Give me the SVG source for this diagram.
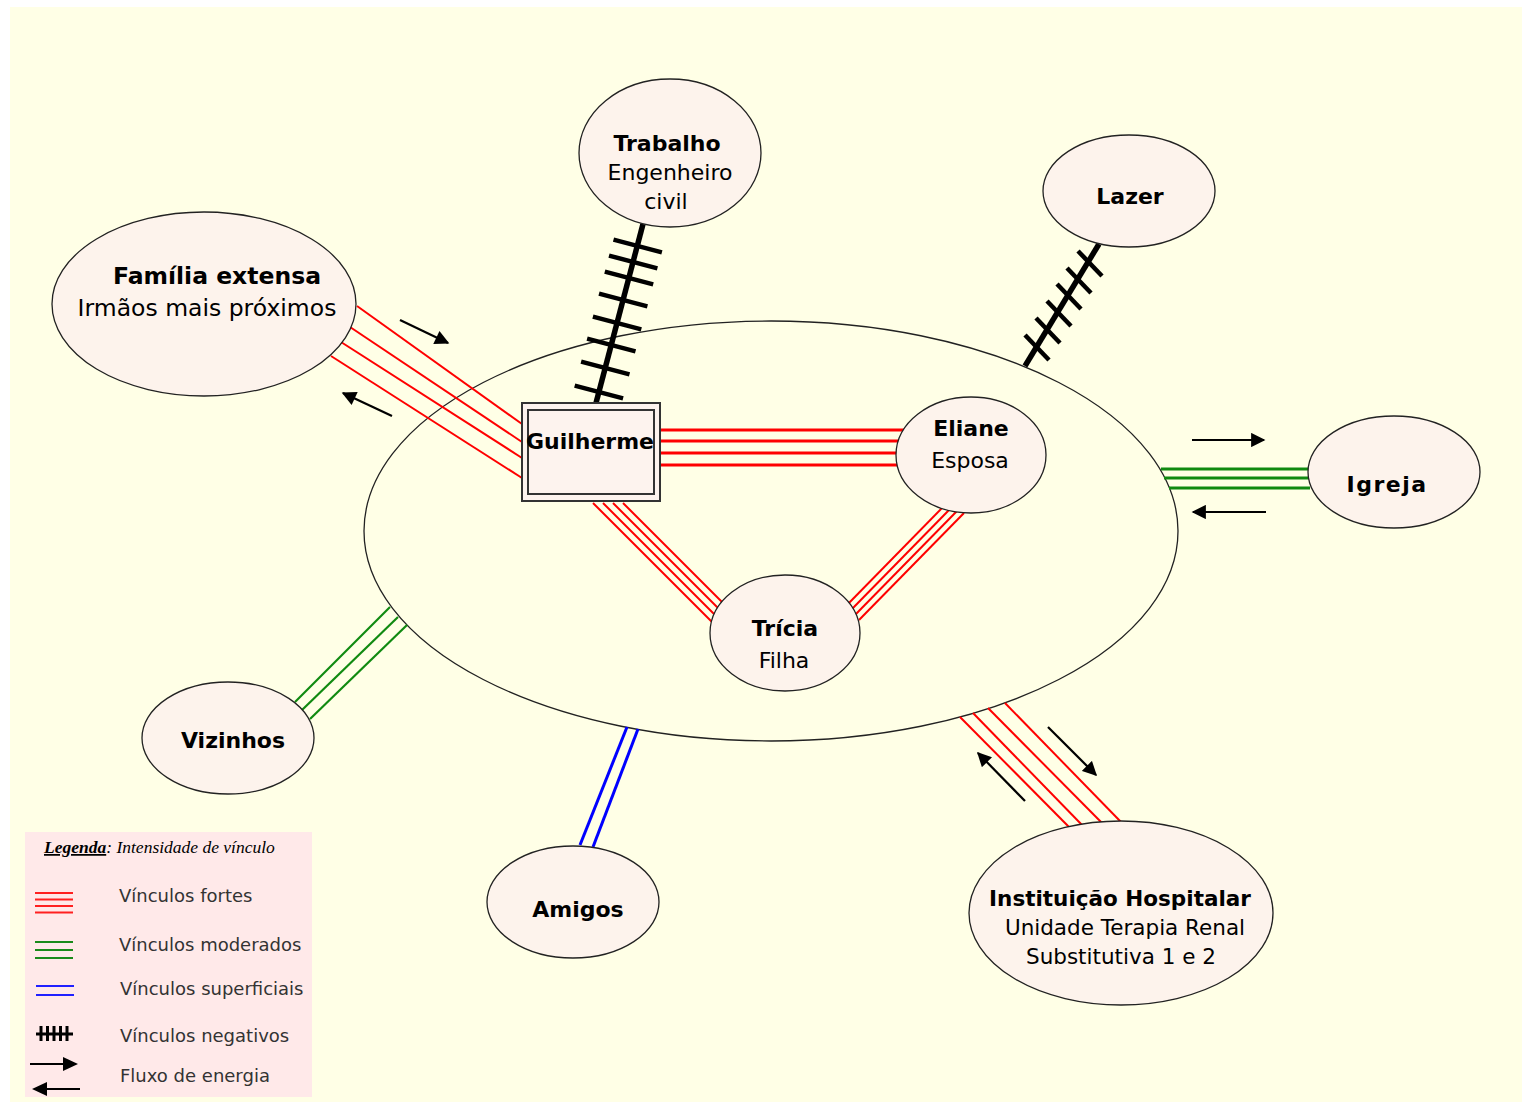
<svg xmlns="http://www.w3.org/2000/svg" width="1522" height="1102" viewBox="0 0 1522 1102">
  <defs>
    <marker id="head" viewBox="0 0 10 10" refX="9" refY="5" markerWidth="7" markerHeight="6.5" orient="auto" markerUnits="strokeWidth">
      <path d="M0,0 L10,5 L0,10 z" fill="#000"/>
    </marker>
    <style>
      .node { fill: #FDF3EC; stroke: #222; stroke-width: 1.3; }
      .t { font-family: "DejaVu Sans", Verdana, sans-serif; font-size: 22px; fill: #000; text-anchor: middle; }
      .b { font-weight: bold; }
      .lg { font-size: 23.5px; }
      .sm { font-size: 21.5px; }
      .red { stroke: #FF0000; fill: none; }
      .grn { stroke: #108A10; fill: none; }
      .blu { stroke: #0000FF; fill: none; stroke-width: 3; }
      .neg { stroke: #000; fill: none; stroke-linecap: butt; }
      .flow { stroke: #000; stroke-width: 2.2; fill: none; marker-end: url(#head); }
      .leg { font-family: "DejaVu Sans", Verdana, sans-serif; font-size: 18px; fill: #333; }
    </style>
  </defs>

  <!-- page -->
  <rect x="0" y="0" width="1522" height="1102" fill="#FFFFFF"/>
  <rect x="10" y="7" width="1512" height="1095" fill="#FFFFE6"/>

  <!-- household boundary -->
  <ellipse id="household" cx="771" cy="531" rx="407" ry="210" fill="none" stroke="#222" stroke-width="1.3"/>

  <g id="connectors">
    <!-- Família extensa - Guilherme -->
    <g class="red" stroke-width="2">
      <line x1="357" y1="306" x2="522" y2="424"/>
      <line x1="350" y1="327" x2="522" y2="442"/>
      <line x1="341" y1="342" x2="522" y2="458"/>
      <line x1="331" y1="356" x2="522" y2="478"/>
    </g>
    <!-- Guilherme - Eliane -->
    <g class="red" stroke-width="3">
      <line x1="660" y1="430" x2="905" y2="430"/>
      <line x1="660" y1="441" x2="900" y2="441"/>
      <line x1="660" y1="453" x2="898" y2="453"/>
      <line x1="660" y1="465" x2="898" y2="465"/>
    </g>
    <!-- Guilherme - Trícia -->
    <g class="red" stroke-width="2">
      <line x1="593" y1="503" x2="713" y2="623"/>
      <line x1="603" y1="503" x2="716" y2="616"/>
      <line x1="613" y1="503" x2="719" y2="609"/>
      <line x1="623" y1="503" x2="723" y2="603"/>
    </g>
    <!-- Eliane - Trícia -->
    <g class="red" stroke-width="2">
      <line x1="943" y1="507" x2="847" y2="605"/>
      <line x1="950" y1="509" x2="851" y2="610"/>
      <line x1="957" y1="511" x2="855" y2="615"/>
      <line x1="964" y1="513" x2="859" y2="620"/>
    </g>
    <!-- Trabalho - Guilherme (negative) -->
    <g class="neg">
      <line x1="643" y1="224" x2="596" y2="403" stroke-width="5.5"/>
      <g stroke-width="4.5">
        <line x1="613.5" y1="239.6" x2="661.9" y2="252.4"/>
        <line x1="609.0" y1="255.6" x2="657.4" y2="268.4"/>
        <line x1="604.8" y1="271.6" x2="653.2" y2="284.4"/>
        <line x1="599.0" y1="293.6" x2="647.4" y2="306.4"/>
        <line x1="592.9" y1="316.6" x2="641.3" y2="329.4"/>
        <line x1="587.1" y1="338.6" x2="635.5" y2="351.4"/>
        <line x1="581.1" y1="361.6" x2="629.5" y2="374.4"/>
        <line x1="574.7" y1="385.6" x2="623.1" y2="398.4"/>
      </g>
    </g>
    <!-- Lazer - household (negative) -->
    <g class="neg">
      <line x1="1099" y1="244" x2="1025" y2="366" stroke-width="5.5"/>
      <g stroke-width="4.5">
        <line x1="1078" y1="251" x2="1102" y2="276"/>
        <line x1="1067" y1="268" x2="1091" y2="293"/>
        <line x1="1057" y1="284" x2="1081" y2="309"/>
        <line x1="1047" y1="301" x2="1071" y2="326"/>
        <line x1="1036" y1="318" x2="1060" y2="343"/>
        <line x1="1025" y1="335" x2="1049" y2="360"/>
      </g>
    </g>
    <!-- Igreja - household -->
    <g class="grn" stroke-width="3">
      <line x1="1161" y1="469" x2="1310" y2="469"/>
      <line x1="1164" y1="478" x2="1310" y2="478"/>
      <line x1="1169" y1="488" x2="1310" y2="488"/>
    </g>
    <!-- Instituição Hospitalar - household -->
    <g class="red" stroke-width="2">
      <line x1="960" y1="717" x2="1069" y2="827"/>
      <line x1="973" y1="713" x2="1083" y2="826"/>
      <line x1="988" y1="708" x2="1103" y2="824"/>
      <line x1="1005" y1="703" x2="1121" y2="822"/>
    </g>
    <!-- Amigos - household -->
    <g class="blu">
      <line x1="627" y1="727" x2="580" y2="845"/>
      <line x1="638" y1="729" x2="593" y2="847"/>
    </g>
    <!-- Vizinhos - household -->
    <g class="grn" stroke-width="2.2">
      <line x1="390" y1="607" x2="295" y2="702"/>
      <line x1="398" y1="617" x2="302" y2="710"/>
      <line x1="407" y1="625" x2="310" y2="719"/>
    </g>
    <!-- energy flow arrows -->
    <line class="flow" x1="400" y1="320" x2="448" y2="343"/>
    <line class="flow" x1="392" y1="416" x2="343" y2="393"/>
    <line class="flow" x1="1192" y1="440" x2="1264" y2="440"/>
    <line class="flow" x1="1266" y1="512" x2="1193" y2="512"/>
    <line class="flow" x1="1025" y1="801" x2="978" y2="753"/>
    <line class="flow" x1="1048" y1="727" x2="1096" y2="775"/>
  </g>

  <g id="trabalho">
    <ellipse class="node" cx="670" cy="153" rx="91" ry="74"/>
    <text class="t b" x="667" y="151">Trabalho</text>
    <text class="t" x="670" y="180">Engenheiro</text>
    <text class="t" x="666" y="209">civil</text>
  </g>
  <g id="lazer">
    <ellipse class="node" cx="1129" cy="191" rx="86" ry="56"/>
    <text class="t b" x="1130" y="204">Lazer</text>
  </g>
  <g id="familia">
    <ellipse class="node" cx="204" cy="304" rx="152" ry="92"/>
    <text class="t b lg" x="217" y="284">Família extensa</text>
    <text class="t lg" x="207" y="316">Irmãos mais próximos</text>
  </g>
  <g id="guilherme">
    <rect x="522" y="403" width="138" height="98" fill="#FDF3EE" stroke="#333" stroke-width="2"/>
    <rect x="528" y="410" width="126" height="84" fill="none" stroke="#333" stroke-width="2"/>
    <text class="t b" x="590" y="449">Guilherme</text>
  </g>
  <g id="eliane">
    <ellipse class="node" cx="971" cy="455" rx="75" ry="58"/>
    <text class="t b" x="971" y="436">Eliane</text>
    <text class="t" x="970" y="468">Esposa</text>
  </g>
  <g id="igreja">
    <ellipse class="node" cx="1394" cy="472" rx="86" ry="56"/>
    <text class="t b" x="1387" y="492" letter-spacing="1.5">Igreja</text>
  </g>
  <g id="tricia">
    <ellipse class="node" cx="785" cy="633" rx="75" ry="58"/>
    <text class="t b" x="785" y="636">Trícia</text>
    <text class="t" x="784" y="668">Filha</text>
  </g>
  <g id="vizinhos">
    <ellipse class="node" cx="228" cy="738" rx="86" ry="56"/>
    <text class="t b" x="233" y="748">Vizinhos</text>
  </g>
  <g id="amigos">
    <ellipse class="node" cx="573" cy="902" rx="86" ry="56"/>
    <text class="t b" x="578" y="917">Amigos</text>
  </g>
  <g id="instituicao">
    <ellipse class="node" cx="1121" cy="913" rx="152" ry="92"/>
    <text class="t b sm" x="1120" y="906">Instituição Hospitalar</text>
    <text class="t sm" x="1125" y="935">Unidade Terapia Renal</text>
    <text class="t sm" x="1121" y="964">Substitutiva 1 e 2</text>
  </g>

  <g id="legend">
    <rect x="25" y="832" width="287" height="265" fill="#FFE9E9"/>
    <text x="44" y="853" font-family="'Liberation Serif', serif" font-style="italic" font-size="17.5" fill="#000"><tspan font-weight="bold" text-decoration="underline">Legenda</tspan>: Intensidade de vínculo</text>
    <g stroke="#FF2020" stroke-width="2">
      <line x1="35" y1="893" x2="73" y2="893"/>
      <line x1="35" y1="899.5" x2="73" y2="899.5"/>
      <line x1="35" y1="906" x2="73" y2="906"/>
      <line x1="35" y1="912.5" x2="73" y2="912.5"/>
    </g>
    <g stroke="#1A8A1A" stroke-width="2">
      <line x1="35" y1="942" x2="73" y2="942"/>
      <line x1="35" y1="950" x2="73" y2="950"/>
      <line x1="35" y1="958" x2="73" y2="958"/>
    </g>
    <g stroke="#2020FF" stroke-width="2">
      <line x1="36" y1="986" x2="74" y2="986"/>
      <line x1="36" y1="995" x2="74" y2="995"/>
    </g>
    <g stroke="#000" stroke-width="3">
      <line x1="36" y1="1034" x2="73" y2="1034"/>
      <line x1="41" y1="1026" x2="41" y2="1041"/>
      <line x1="47.5" y1="1026" x2="47.5" y2="1041"/>
      <line x1="54" y1="1026" x2="54" y2="1041"/>
      <line x1="60.5" y1="1026" x2="60.5" y2="1041"/>
      <line x1="67" y1="1026" x2="67" y2="1041"/>
    </g>
    <path d="M30,1064 H64" stroke="#000" stroke-width="2"/>
    <path d="M63,1057 L78,1064 L63,1071 z" fill="#000"/>
    <path d="M46,1089 H80" stroke="#000" stroke-width="2"/>
    <path d="M47,1082 L32,1089 L47,1096 z" fill="#000"/>
    <text class="leg" x="119" y="902">Vínculos fortes</text>
    <text class="leg" x="119" y="951">Vínculos moderados</text>
    <text class="leg" x="120" y="995">Vínculos superficiais</text>
    <text class="leg" x="120" y="1042">Vínculos negativos</text>
    <text class="leg" x="120" y="1082">Fluxo de energia</text>
  </g>
</svg>
